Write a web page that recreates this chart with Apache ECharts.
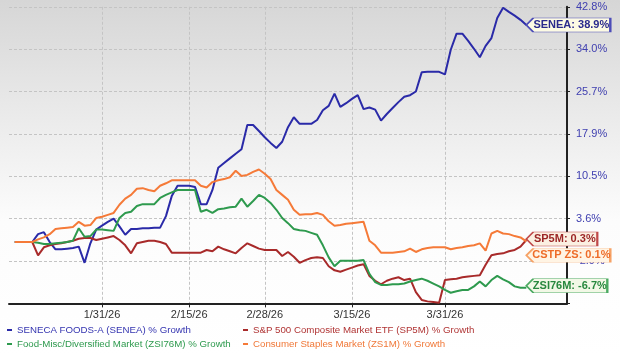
<!DOCTYPE html>
<html><head><meta charset="utf-8">
<script src="https://cdn.jsdelivr.net/npm/echarts@6/dist/echarts.min.js"></script>
<style>html,body{margin:0;padding:0;background:#fff;}#c{width:620px;height:357px;}</style>
</head><body><div id="c"></div>
<script>
// ---- data (percent growth, daily from 1/16/26 to 4/14/26) ----
const tickDates = ['1/31/26','2/15/26','2/28/26','3/15/26','3/31/26'];
const yTickLabels = ['', '-2.9%', '3.6%', '10.5%', '17.9%', '25.7%', '34.0%', '42.8%']; // axis units -2..5

const seriesNames = [
  'SENECA FOODS-A (SENEA) % Growth',
  'S&P 500 Composite Market ETF (SP5M) % Growth',
  'Food-Misc/Diversified Market (ZSI76M) % Growth',
  'Consumer Staples Market (ZS1M) % Growth'
];
const seriesCodes = ['SENEA', 'SP5M', 'ZSI76M', 'CSTP ZS'];

const seneaValues = [0,0,0,0,1.2,1.5,0.0,-1.1,-1.1,-1.0,-0.9,-0.7,-3.1,-0.2,1.9,2.5,3.1,3.6,2.4,1.1,
  2.0,2.0,2.1,2.1,2.2,2.2,4.0,7.2,8.9,8.9,8.9,8.7,5.9,5.9,8.2,11.9,12.7,13.5,14.3,15.1,
  19.4,19.4,18.3,17.2,16.2,15.3,16.4,19.0,20.8,19.6,19.6,19.6,20.3,22.1,22.9,25.2,22.7,23.4,24.2,24.9,
  22.3,22.6,22.2,20.2,21.4,22.5,23.6,24.6,24.9,25.6,29.3,29.4,29.4,29.4,28.9,33.8,37.1,37.1,35.6,34.0,
  32.3,34.6,36.2,40.4,42.6,41.7,40.9,40.0,38.9];
const sp5mValues = [0,0,0,0,-2.0,-0.8,-0.5,-0.3,-0.2,0.0,0.2,0.5,0.6,0.6,0.3,0.5,0.7,0.9,0.3,-0.5,
  -1.7,-0.2,0.0,0.2,0.2,0.0,-0.3,-1.6,-1.6,-1.6,-1.6,-1.6,-1.6,-1.2,-1.4,-0.7,-1.1,-1.4,-1.7,-0.9,
  -0.2,-0.6,-1.0,-1.2,-1.2,-1.2,-2.1,-1.5,-2.2,-3.1,-2.7,-2.4,-2.3,-2.4,-3.6,-4.2,-4.4,-4.1,-3.8,-3.5,
  -3.3,-5.0,-5.7,-6.2,-5.7,-5.4,-5.2,-5.6,-5.4,-7.3,-8.4,-8.6,-8.7,-8.8,-5.6,-5.5,-5.4,-5.2,-5.1,-5.0,
  -4.9,-3.4,-2.0,-1.8,-1.7,-1.4,-1.2,-0.7,0.3];
const zsi76mValues = [0,0,0,0,-0.1,-0.3,-0.3,-0.2,-0.1,0.0,0.2,2.1,0.8,0.9,1.9,1.9,1.8,1.7,3.7,4.5,
  4.7,5.6,5.9,5.9,5.9,6.9,7.4,7.8,8.2,8.2,8.2,8.2,4.7,5.0,4.5,5.1,5.2,5.4,5.5,6.8,
  5.5,6.4,7.4,6.9,6.1,5.0,3.7,2.9,2.0,1.8,1.7,1.4,1.1,-0.5,-2.3,-3.6,-2.8,-2.8,-2.8,-2.8,
  -2.7,-4.7,-5.9,-6.3,-6.3,-6.2,-6.2,-6.1,-5.8,-5.6,-5.4,-5.7,-6.1,-6.5,-7.0,-7.4,-7.2,-7.0,-7.0,-6.5,
  -5.8,-6.5,-5.6,-5.0,-5.5,-5.9,-6.5,-6.7,-6.7];
const zs1mValues = [0,0,0,0,0.4,0.7,1.2,2.0,2.1,2.2,2.3,3.1,2.5,2.6,3.7,3.9,4.2,4.5,5.8,6.8,
  7.4,8.4,8.5,8.2,8.0,8.9,9.3,9.8,9.8,9.8,9.8,9.8,8.9,8.6,9.5,9.8,10.0,10.3,11.4,10.5,
  10.7,11.2,11.6,10.9,10.0,8.2,7.4,6.6,5.0,4.2,4.3,4.3,4.5,4.2,3.2,2.5,2.6,2.8,2.9,3.0,
  3.1,0.2,-0.5,-1.6,-1.6,-1.6,-1.5,-1.4,-1.0,-1.5,-1.1,-0.9,-0.8,-0.8,-0.8,-1.1,-0.9,-0.8,-0.6,-0.5,
  -0.2,-1.3,1.3,1.7,1.3,1.2,0.9,0.7,0.1];

// ---- axis domain: calendar days 1/15/26 .. 4/21/26, data starts at 1/16/26 ----
const axisStart = [2026, 0, 15];
const axisDayCount = 97;
const dataStartOffset = 1;

function fmtDate(d){ return (d.getMonth()+1) + '/' + d.getDate() + '/' + String(d.getFullYear()).slice(2); }
const categories = [];
for (let k = 0; k < axisDayCount; k++) categories.push(fmtDate(new Date(axisStart[0], axisStart[1], axisStart[2] + k)));

// log-growth axis: units of one tick step, 0 at 3.6%
const LOG_STEP = 0.06418;
const LOG_BASE = Math.log(1.036);
function toAxis(p){ return (Math.log(1 + p / 100) - LOG_BASE) / LOG_STEP; }

const allValues = [seneaValues, sp5mValues, zsi76mValues, zs1mValues];
const colors = ['#2a2aa8', '#a82a2a', '#2e9a4e', '#f57a38'];
const legendTextColors = ['#3434b0', '#b03434', '#2e9a4e', '#f07838'];
const calloutStyles = [
  {w: 84, dy: 0,  fill: '#fdfbe4', border: '#4c4cb8', text: '#2a2a8c'},
  {w: 71, dy: -1, fill: '#fbf0e2', border: '#c04a4a', text: '#9c2626'},
  {w: 81, dy: -2, fill: '#f2f8e6', border: '#4caa62', text: '#28883e'},
  {w: 84, dy: 14, fill: '#fff4e4', border: '#f6a266', text: '#ee6c28'}
];
const FONT = '"Liberation Sans", Arial, sans-serif';
const isTickDate = (idx, val) => tickDates.indexOf(val) >= 0;

const series = allValues.map((vals, s) => {
  const data = vals.map((v, k) => [categories[k + dataStartOffset], toAxis(v)]);
  const last = data[data.length - 1];
  const cs = calloutStyles[s];
  const h = 14;
  return {
    name: seriesNames[s],
    type: 'line',
    data: data,
    showSymbol: false,
    symbol: 'none',
    lineStyle: {color: colors[s], width: 2},
    itemStyle: {color: colors[s]},
    z: 2,
    markPoint: {
      silent: true,
      symbol: 'path://M0,' + (h/2) + 'L7,0L' + cs.w + ',0L' + cs.w + ',' + h + 'L7,' + h + 'Z',
      symbolSize: [cs.w, h],
      symbolOffset: [cs.w / 2, cs.dy],
      itemStyle: {color: cs.fill, borderColor: cs.border, borderWidth: 1},
      label: {
        show: true, position: 'inside', offset: [3, 0],
        color: cs.text, fontSize: 11, fontWeight: 'bold', fontFamily: FONT,
        formatter: seriesCodes[s] + ': ' + vals[vals.length - 1].toFixed(1) + '%'
      },
      data: [{coord: last, value: vals[vals.length - 1]}]
    }
  };
});

const legends = seriesNames.map((n, s) => ({
  data: [n],
  left: s % 2 === 0 ? 7 : 243,
  top: s < 2 ? 325 : 339,
  padding: 0,
  icon: 'rect',
  itemWidth: 5,
  itemHeight: 2,
  selectedMode: false,
  textStyle: {color: legendTextColors[s], fontSize: 9.7, fontFamily: FONT}
}));

const chart = echarts.init(document.getElementById('c'), null, {renderer: 'canvas'});
chart.setOption({
  animation: false,
  backgroundColor: {type: 'linear', x: 0, y: 0, x2: 0, y2: 1,
    colorStops: [{offset: 0, color: '#d6d6d6'}, {offset: 0.3, color: '#e9e9e9'}, {offset: 0.62, color: '#fcfcfc'}, {offset: 1, color: '#ffffff'}]},
  textStyle: {fontFamily: FONT},
  grid: {left: 9, right: 53, top: 6.8, bottom: 53.6},
  legend: legends,
  xAxis: {
    type: 'category', data: categories, boundaryGap: false,
    axisLine: {onZero: false, lineStyle: {color: '#222', width: 2}},
    axisTick: {show: true, interval: isTickDate, length: 4, lineStyle: {color: '#222'}},
    axisLabel: {interval: isTickDate, color: '#333', fontSize: 11, margin: 6, fontFamily: FONT},
    splitLine: {show: true, interval: isTickDate, lineStyle: {color: '#c4c4c4', type: [3, 2]}}
  },
  yAxis: {
    type: 'value', position: 'right', min: -2, max: 5, interval: 1,
    axisLine: {show: true, lineStyle: {color: '#222', width: 2}},
    axisTick: {show: true, length: 3, lineStyle: {color: '#222'}},
    axisLabel: {color: '#4040b0', fontSize: 11, margin: 9, fontFamily: FONT,
      formatter: v => Math.abs(v - Math.round(v)) < 1e-6 ? (yTickLabels[Math.round(v) + 2] || '') : ''},
    splitLine: {show: true, lineStyle: {color: '#c4c4c4', type: [3, 2]}}
  },
  series: series
});
</script>
</body></html>
